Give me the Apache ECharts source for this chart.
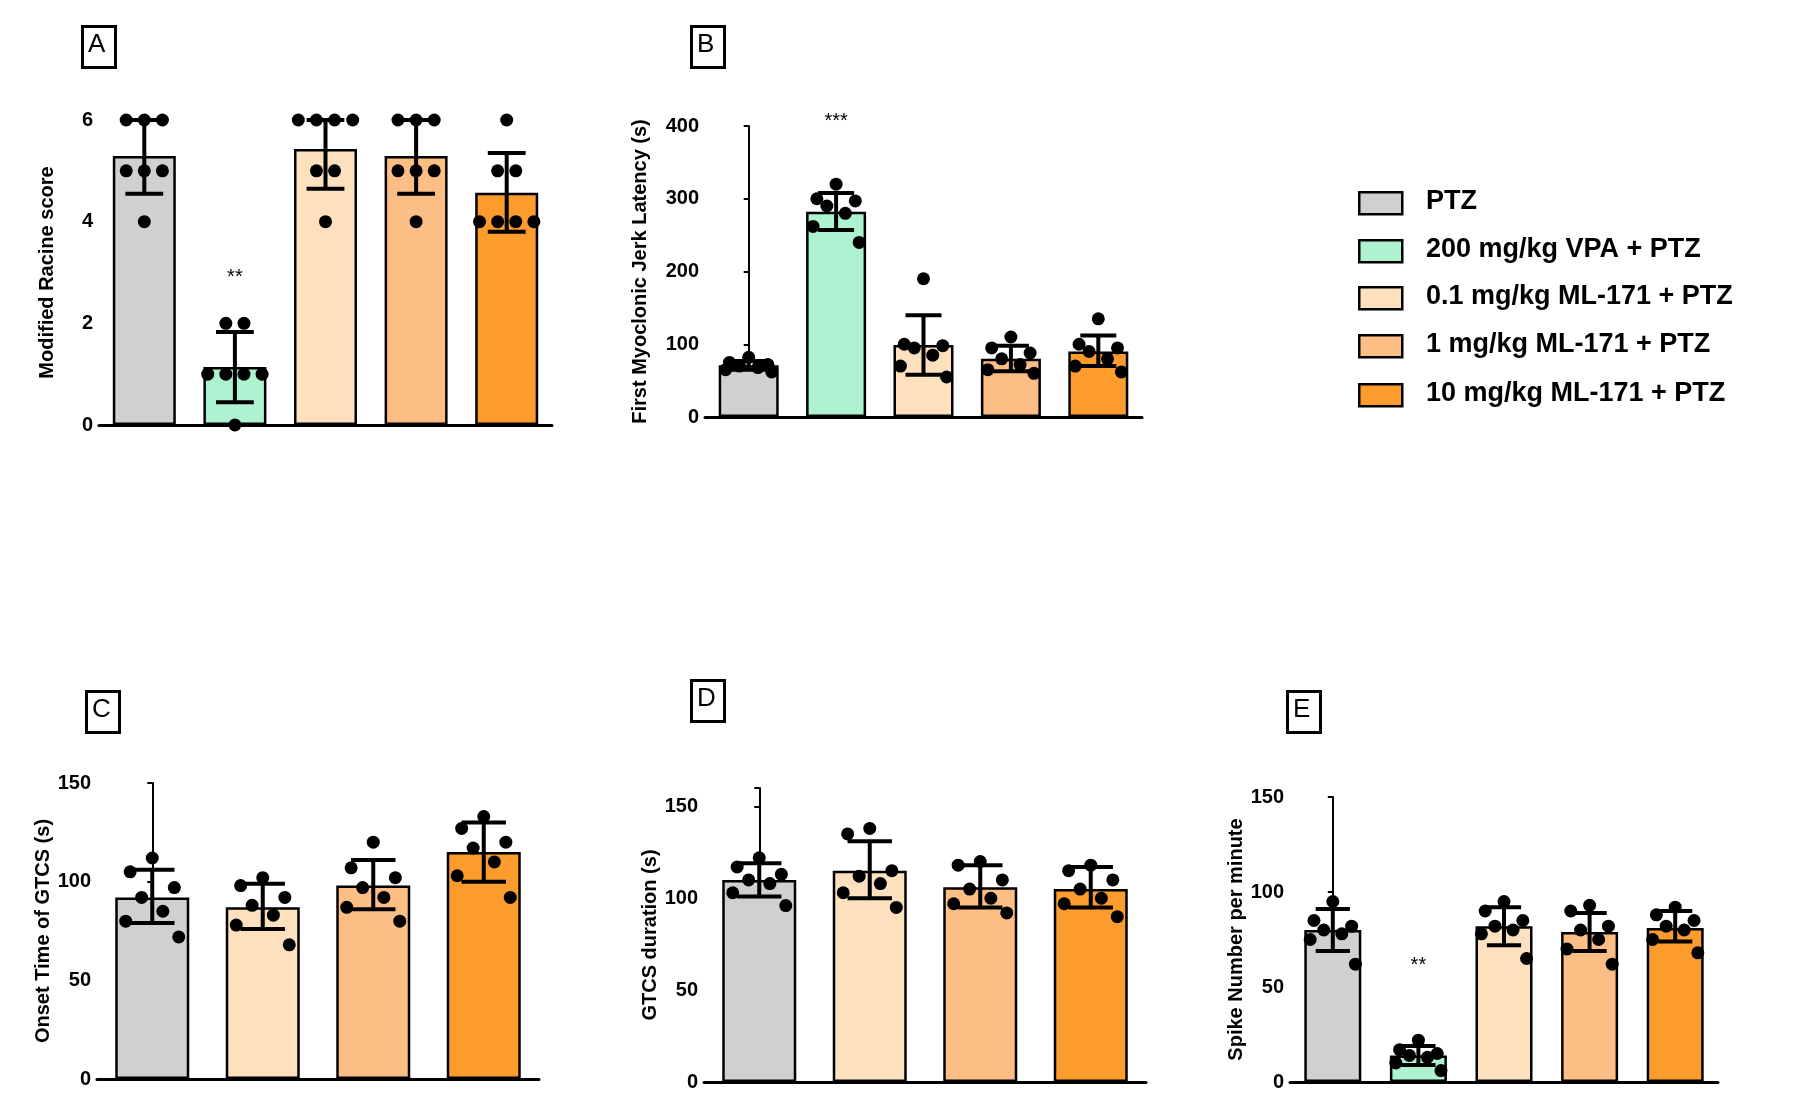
<!DOCTYPE html>
<html>
<head>
<meta charset="utf-8">
<script src="https://cdn.jsdelivr.net/npm/echarts@6/dist/echarts.min.js"></script>
<style>html,body{margin:0;background:#fff}#chart{width:1803px;height:1109px}</style>
</head>
<body>
<div id="chart"></div>
<script>
// group names and colours
const groups = ['PTZ', '200 mg/kg VPA + PTZ', '0.1 mg/kg ML-171 + PTZ', '1 mg/kg ML-171 + PTZ', '10 mg/kg ML-171 + PTZ'];
const colors = ['#d0d0d0', '#aef3cf', '#fde0be', '#fdbe86', '#fb9c2c'];

// Panel A - Modified Racine score
const aMean = [5.29, 1.14, 5.43, 5.29, 4.57];
const aErr = [[4.55, 6.0], [0.45, 1.83], [4.65, 6.0], [4.55, 6.0], [3.8, 5.35]];
const aPts = [[6, 6, 6, 5, 5, 5, 4], [2, 2, 1, 1, 1, 1, 0], [6, 6, 6, 6, 5, 5, 4], [6, 6, 6, 5, 5, 5, 4], [6, 5, 5, 4, 4, 4, 4]];
// Panel B - First myoclonic jerk latency
const bMean = [71, 282, 99, 80, 90];
const bErr = [[65, 77], [257, 308], [58, 140], [63, 98], [70, 112]];
const bPts = [[82, 75, 72, 70, 68, 65, 62], [320, 300, 297, 290, 280, 262, 240], [190, 100, 98, 95, 85, 70, 55], [110, 95, 88, 80, 72, 65, 60], [135, 100, 95, 90, 80, 70, 62]];
// Panel C - Onset time of GTCS (no VPA group)
const cMean = [92, 87, 98, 115];
const cErr = [[79, 106], [76, 99], [86, 111], [100, 130]];
const cPts = [[112, 105, 97, 92, 85, 80, 72], [102, 98, 92, 88, 83, 78, 68], [120, 107, 102, 97, 92, 87, 80], [133, 127, 120, 117, 110, 103, 92]];
// Panel D - GTCS duration
const dMean = [110, 115, 106, 105];
const dErr = [[101, 119], [100, 131], [95, 118], [95, 117]];
const dPts = [[122, 117, 113, 110, 108, 103, 96], [138, 135, 115, 112, 108, 103, 95], [120, 118, 110, 105, 100, 97, 92], [118, 115, 110, 105, 100, 97, 90]];
// Panel E - Spike number per minute
const eMean = [80, 14, 82, 79, 81];
const eErr = [[69, 91], [9, 19], [72, 92], [69, 89], [74, 90]];
const ePts = [[95, 85, 82, 80, 78, 75, 62], [22, 17, 15, 14, 13, 10, 6], [95, 90, 85, 82, 80, 78, 65], [93, 90, 82, 80, 75, 70, 62], [92, 88, 85, 82, 80, 75, 68]];

const S = 1.15;
const px = v => Math.round(v * S);
const FONT = '"Liberation Sans Narrow", "Liberation Sans", Arial, sans-serif';

// panel layout in reference coordinates (before scaling)
const panels = [
  { mean: aMean, err: aErr, pts: aPts, grp: [0, 1, 2, 3, 4], left: 86, right: 480, top: 104, bottom: 369, max: 6, interval: 2, name: 'Modified Racine score', star: { 1: '**' }, jit: 0.2, barW: 55 },
  { mean: bMean, err: bErr, pts: bPts, grp: [0, 1, 2, 3, 4], left: 613, right: 993, top: 110, bottom: 363, max: 400, interval: 100, name: 'First Myoclonic Jerk Latency (s)', star: { 1: '***' }, jit: 0.22, barW: 52 },
  { mean: cMean, err: cErr, pts: cPts, grp: [0, 2, 3, 4], left: 84, right: 468, top: 681, bottom: 938, max: 150, interval: 50, name: 'Onset Time of GTCS (s)', star: {}, jit: 0.2, barW: 64 },
  { mean: dMean, err: dErr, pts: dPts, grp: [0, 2, 3, 4], left: 612, right: 996, top: 685, bottom: 941, max: 160, interval: 50, name: 'GTCS duration (s)', star: {}, jit: 0.2, barW: 64 },
  { mean: eMean, err: eErr, pts: ePts, grp: [0, 1, 2, 3, 4], left: 1122, right: 1494, top: 693, bottom: 941, max: 150, interval: 50, name: 'Spike Number per minute', star: { 1: '**' }, jit: 0.22, barW: 50 }
];

// spread equal values side by side; unequal values get a fixed scatter pattern
const pattern = [0.0, -0.25, 0.25, -0.12, 0.12, -0.3, 0.3];
function jitter(vals, spread, discrete) {
  if (!discrete) return vals.map((v, i) => [pattern[i] * spread / 0.25, v]);
  const out = [];
  const seen = {};
  vals.forEach(v => { seen[v] = (seen[v] || 0) + 1; });
  const idx = {};
  vals.forEach(v => {
    const n = seen[v];
    const k = idx[v] = (idx[v] || 0);
    idx[v]++;
    out.push([(k - (n - 1) / 2) * spread, v]);
  });
  return out;
}

const grid = [], xAxis = [], yAxis = [], series = [];
panels.forEach((p, gi) => {
  const n = p.mean.length;
  grid.push({ left: px(p.left), top: px(p.top), width: px(p.right - p.left), height: px(p.bottom - p.top) });
  const axisLine = { lineStyle: { color: '#000', width: 3 } };
  xAxis.push({ gridIndex: gi, type: 'category', data: p.grp.map(g => groups[g]), axisLine, axisLabel: { show: false },
    axisTick: { alignWithLabel: true, length: 8, lineStyle: { color: '#000', width: 2 } } });
  xAxis.push({ gridIndex: gi, type: 'value', min: -0.5, max: n - 0.5, show: false });
  yAxis.push({ gridIndex: gi, type: 'value', min: 0, max: p.max, interval: p.interval, splitLine: { show: false },
    axisLine: { show: true, lineStyle: { color: '#000', width: 2 } },
    axisTick: { show: true, length: 5, lineStyle: { color: '#000', width: 2 } },
    axisLabel: { color: '#000', fontFamily: FONT, fontWeight: 'bold', fontSize: 20, margin: 6,
      formatter: v => (v % p.interval === 0 ? v : '') },
    name: p.name, nameLocation: 'middle', nameGap: gi === 1 ? 55 : 42,
    nameTextStyle: { color: '#000', fontFamily: 'Liberation Sans, Arial, sans-serif', fontWeight: 'bold', fontSize: 20 } });

  series.push({
    type: 'bar', xAxisIndex: gi * 2, yAxisIndex: gi, barWidth: px(p.barW),
    data: p.mean.map((v, i) => ({ value: v, itemStyle: { color: colors[p.grp[i]] } })),
    itemStyle: { borderColor: '#000', borderWidth: 2.5 },
    label: { show: true, position: 'top', distance: 0, color: '#000', fontSize: 20, fontFamily: FONT,
      formatter: d => p.star[d.dataIndex] ? p.star[d.dataIndex] + '\n\n\n\n' : '' }
  });
  series.push({
    type: 'custom', xAxisIndex: gi * 2, yAxisIndex: gi, z: 5,
    data: p.err.map((e, i) => [i, e[0], e[1]]),
    renderItem: (params, api) => {
      const lo = api.coord([api.value(0), api.value(1)]);
      const hi = api.coord([api.value(0), api.value(2)]);
      const w = px(p.barW) * 0.3;
      const st = { stroke: '#000', lineWidth: 4 };
      return { type: 'group', children: [
        { type: 'line', shape: { x1: lo[0], y1: lo[1], x2: hi[0], y2: hi[1] }, style: st },
        { type: 'line', shape: { x1: lo[0] - w, y1: lo[1], x2: lo[0] + w, y2: lo[1] }, style: st },
        { type: 'line', shape: { x1: hi[0] - w, y1: hi[1], x2: hi[0] + w, y2: hi[1] }, style: st }
      ] };
    }
  });
  const pts = [];
  p.pts.forEach((vals, i) => {
    jitter(vals, p.jit, gi === 0).forEach(d => pts.push([i + d[0], d[1]]));
  });
  series.push({
    type: 'scatter', xAxisIndex: gi * 2 + 1, yAxisIndex: gi, z: 6, symbolSize: 13,
    itemStyle: { color: '#000', opacity: 1 }, data: pts
  });
});

// panel letters and legend
const graphic = [];
[['A', 70, 22], ['B', 600, 22], ['C', 74, 600], ['D', 600, 590], ['E', 1118, 600]].forEach(l => {
  graphic.push({ type: 'rect', left: px(l[1]), top: px(l[2]), shape: { width: px(29), height: px(36) },
    style: { fill: '#fff', stroke: '#000', lineWidth: 3 } });
  graphic.push({ type: 'text', left: px(l[1]) + 7, top: px(l[2]) + 7,
    style: { text: l[0], fontSize: 26, fontFamily: 'Liberation Sans, Arial, sans-serif', fill: '#000' } });
});
groups.forEach((g, i) => {
  const y = [176, 217, 258, 300, 343][i];
  graphic.push({ type: 'rect', left: px(1181), top: px(y) - 11, shape: { width: px(37), height: 22 },
    style: { fill: colors[i], stroke: '#000', lineWidth: 2.5 } });
  graphic.push({ type: 'text', left: px(1240), top: px(y) - 14,
    style: { text: g, fontSize: 27, fontWeight: 'bold', fontFamily: 'Liberation Sans, Arial, sans-serif', fill: '#000' } });
});

const chart = echarts.init(document.getElementById('chart'));
chart.setOption({ animation: false, grid, xAxis, yAxis, series, graphic });
</script>
</body>
</html>
